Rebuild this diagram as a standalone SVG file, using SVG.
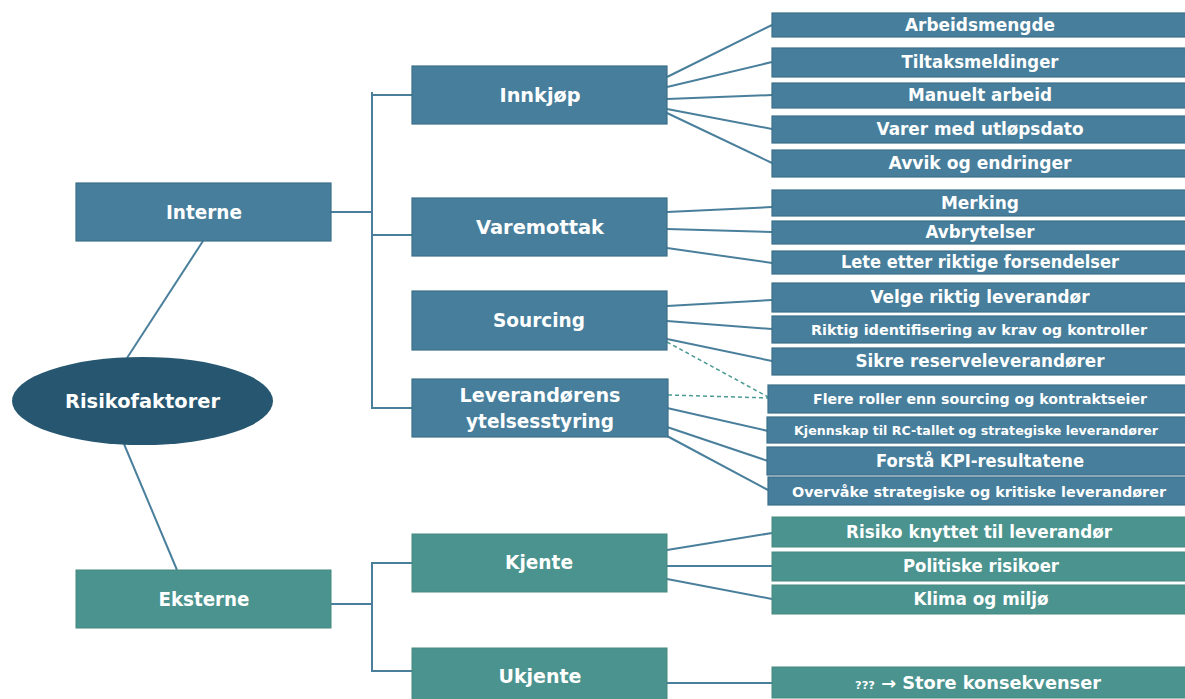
<svg xmlns="http://www.w3.org/2000/svg" width="1185" height="699" viewBox="0 0 1185 699">
  <style>
    .blue { fill: #467e9b; stroke: #3b7089; stroke-width: 1.2; }
    .teal { fill: #4a938e; stroke: #46897f; stroke-width: 1; }
    .root { fill: #265670; }
    .t { font-family: "DejaVu Sans", "Liberation Sans", sans-serif; font-weight: bold; fill: #ffffff; text-anchor: middle; }
    .big { font-size: 19px; }
    .mid { font-size: 17px; }
    .sm { font-size: 14px; }
    .xs { font-size: 13px; }
    .ln { stroke: #4a7f9c; stroke-width: 2; fill: none; }
    .dash { stroke: #4b9a94; stroke-width: 1.5; stroke-dasharray: 4 3; fill: none; }
  </style>

  <!-- connectors -->
  <g id="connectors">
    <!-- root to categories -->
    <line class="ln" x1="203" y1="241" x2="127" y2="358"/>
    <line class="ln" x1="124" y1="444" x2="177" y2="570"/>
    <!-- Interne trunk -->
    <line class="ln" x1="331" y1="212" x2="372" y2="212"/>
    <line class="ln" x1="372" y1="92" x2="372" y2="409"/>
    <line class="ln" x1="372" y1="95" x2="412" y2="95"/>
    <line class="ln" x1="372" y1="235" x2="412" y2="235"/>
    <line class="ln" x1="372" y1="408" x2="412" y2="408"/>
    <!-- Eksterne trunk -->
    <line class="ln" x1="331" y1="604" x2="372" y2="604"/>
    <line class="ln" x1="372" y1="562" x2="372" y2="672"/>
    <line class="ln" x1="372" y1="563" x2="412" y2="563"/>
    <line class="ln" x1="372" y1="671" x2="412" y2="671"/>
    <!-- Innkjøp -->
    <line class="ln" x1="667" y1="77" x2="772" y2="25"/>
    <line class="ln" x1="667" y1="87" x2="772" y2="62"/>
    <line class="ln" x1="667" y1="99" x2="772" y2="95"/>
    <line class="ln" x1="667" y1="109" x2="772" y2="129"/>
    <line class="ln" x1="667" y1="113" x2="772" y2="163"/>
    <!-- Varemottak -->
    <line class="ln" x1="667" y1="212" x2="772" y2="207"/>
    <line class="ln" x1="667" y1="229" x2="772" y2="232"/>
    <line class="ln" x1="667" y1="248" x2="772" y2="263"/>
    <!-- Sourcing -->
    <line class="ln" x1="667" y1="306" x2="772" y2="300"/>
    <line class="ln" x1="667" y1="321" x2="772" y2="329"/>
    <line class="ln" x1="667" y1="339" x2="772" y2="361"/>
    <line class="dash" x1="667" y1="342" x2="770" y2="398"/>
    <!-- Leverandørens ytelsesstyring -->
    <line class="dash" x1="668" y1="395" x2="770" y2="398"/>
    <line class="ln" x1="667" y1="408" x2="768" y2="431"/>
    <line class="ln" x1="667" y1="427" x2="768" y2="461"/>
    <line class="ln" x1="667" y1="436" x2="768" y2="490"/>
    <!-- Kjente -->
    <line class="ln" x1="667" y1="550" x2="772" y2="533"/>
    <line class="ln" x1="667" y1="566" x2="772" y2="566"/>
    <line class="ln" x1="667" y1="579" x2="772" y2="599"/>
    <!-- Ukjente -->
    <line class="ln" x1="667" y1="683" x2="772" y2="683"/>
  </g>

  <!-- root -->
  <g id="risikofaktorer">
    <ellipse class="root" cx="142.5" cy="401" rx="130.5" ry="44"/>
    <text class="t big" x="142.5" y="408" textLength="155" lengthAdjust="spacingAndGlyphs">Risikofaktorer</text>
  </g>

  <!-- categories -->
  <g id="interne">
    <rect class="blue" x="76" y="183" width="255" height="58"/>
    <text class="t big" x="204" y="219" textLength="76" lengthAdjust="spacingAndGlyphs">Interne</text>
  </g>
  <g id="eksterne">
    <rect class="teal" x="76" y="570" width="255" height="58"/>
    <text class="t big" x="204" y="606" textLength="91" lengthAdjust="spacingAndGlyphs">Eksterne</text>
  </g>

  <!-- internal sub-areas -->
  <g id="innkjop">
    <rect class="blue" x="412" y="66" width="255" height="58"/>
    <text class="t big" x="540" y="102" textLength="81" lengthAdjust="spacingAndGlyphs">Innkjøp</text>
  </g>
  <g id="varemottak">
    <rect class="blue" x="412" y="198" width="255" height="58"/>
    <text class="t big" x="540" y="234" textLength="128" lengthAdjust="spacingAndGlyphs">Varemottak</text>
  </g>
  <g id="sourcing">
    <rect class="blue" x="412" y="291" width="255" height="59"/>
    <text class="t big" x="539" y="327" textLength="92" lengthAdjust="spacingAndGlyphs">Sourcing</text>
  </g>
  <g id="leverandorens">
    <rect class="blue" x="412" y="379" width="256" height="58"/>
    <text class="t big" x="540" y="402" textLength="161" lengthAdjust="spacingAndGlyphs">Leverandørens</text>
    <text class="t big" x="540" y="428" textLength="148" lengthAdjust="spacingAndGlyphs">ytelsesstyring</text>
  </g>

  <!-- external sub-areas -->
  <g id="kjente">
    <rect class="teal" x="412" y="534" width="255" height="58"/>
    <text class="t big" x="539" y="569" textLength="68" lengthAdjust="spacingAndGlyphs">Kjente</text>
  </g>
  <g id="ukjente">
    <rect class="teal" x="412" y="648" width="255" height="58"/>
    <text class="t big" x="540" y="683" textLength="83" lengthAdjust="spacingAndGlyphs">Ukjente</text>
  </g>

  <!-- Innkjøp factors -->
  <g id="arbeidsmengde">
    <rect class="blue" x="772" y="13" width="414" height="24"/>
    <text class="t mid" x="980" y="31" textLength="150" lengthAdjust="spacingAndGlyphs">Arbeidsmengde</text>
  </g>
  <g id="tiltaksmeldinger">
    <rect class="blue" x="772" y="48" width="414" height="29"/>
    <text class="t mid" x="980" y="68" textLength="157" lengthAdjust="spacingAndGlyphs">Tiltaksmeldinger</text>
  </g>
  <g id="manuelt-arbeid">
    <rect class="blue" x="772" y="83" width="414" height="25"/>
    <text class="t mid" x="980" y="101" textLength="144" lengthAdjust="spacingAndGlyphs">Manuelt arbeid</text>
  </g>
  <g id="varer-med-utlopsdato">
    <rect class="blue" x="772" y="116" width="414" height="27"/>
    <text class="t mid" x="980" y="135" textLength="207" lengthAdjust="spacingAndGlyphs">Varer med utløpsdato</text>
  </g>
  <g id="avvik-og-endringer">
    <rect class="blue" x="772" y="150" width="414" height="27"/>
    <text class="t mid" x="980" y="169" textLength="183" lengthAdjust="spacingAndGlyphs">Avvik og endringer</text>
  </g>

  <!-- Varemottak factors -->
  <g id="merking">
    <rect class="blue" x="772" y="190" width="414" height="26"/>
    <text class="t mid" x="980" y="209" textLength="78" lengthAdjust="spacingAndGlyphs">Merking</text>
  </g>
  <g id="avbrytelser">
    <rect class="blue" x="772" y="221" width="414" height="23"/>
    <text class="t mid" x="980" y="238" textLength="109" lengthAdjust="spacingAndGlyphs">Avbrytelser</text>
  </g>
  <g id="lete-etter">
    <rect class="blue" x="772" y="251" width="414" height="23"/>
    <text class="t mid" x="980" y="268" textLength="278" lengthAdjust="spacingAndGlyphs">Lete etter riktige forsendelser</text>
  </g>

  <!-- Sourcing factors -->
  <g id="velge-riktig">
    <rect class="blue" x="772" y="283" width="414" height="29"/>
    <text class="t mid" x="980" y="303" textLength="219" lengthAdjust="spacingAndGlyphs">Velge riktig leverandør</text>
  </g>
  <g id="riktig-identifisering">
    <rect class="blue" x="772" y="316" width="414" height="27"/>
    <text class="t sm" x="979" y="334.5" textLength="336" lengthAdjust="spacingAndGlyphs">Riktig identifisering av krav og kontroller</text>
  </g>
  <g id="sikre-reserve">
    <rect class="blue" x="772" y="348" width="414" height="27"/>
    <text class="t mid" x="980" y="367" textLength="249" lengthAdjust="spacingAndGlyphs">Sikre reserveleverandører</text>
  </g>

  <!-- Leverandørens ytelsesstyring factors -->
  <g id="flere-roller">
    <rect class="blue" x="768" y="385" width="418" height="28"/>
    <text class="t sm" x="980" y="404" textLength="334" lengthAdjust="spacingAndGlyphs">Flere roller enn sourcing og kontraktseier</text>
  </g>
  <g id="kjennskap">
    <rect class="blue" x="767" y="417" width="419" height="26"/>
    <text class="t xs" x="976" y="434.5" textLength="364" lengthAdjust="spacingAndGlyphs">Kjennskap til RC-tallet og strategiske leverandører</text>
  </g>
  <g id="forsta-kpi">
    <rect class="blue" x="767" y="447" width="419" height="28"/>
    <text class="t mid" x="980" y="467" textLength="208" lengthAdjust="spacingAndGlyphs">Forstå KPI-resultatene</text>
  </g>
  <g id="overvake">
    <rect class="blue" x="768" y="477" width="418" height="28"/>
    <text class="t sm" x="979" y="496.5" textLength="374" lengthAdjust="spacingAndGlyphs">Overvåke strategiske og kritiske leverandører</text>
  </g>

  <!-- Kjente factors -->
  <g id="risiko-leverandor">
    <rect class="teal" x="772" y="517" width="414" height="30"/>
    <text class="t mid" x="979" y="538" textLength="266" lengthAdjust="spacingAndGlyphs">Risiko knyttet til leverandør</text>
  </g>
  <g id="politiske">
    <rect class="teal" x="772" y="552" width="414" height="29"/>
    <text class="t mid" x="981" y="572" textLength="156" lengthAdjust="spacingAndGlyphs">Politiske risikoer</text>
  </g>
  <g id="klima">
    <rect class="teal" x="772" y="585" width="414" height="29"/>
    <text class="t mid" x="981" y="605" textLength="135" lengthAdjust="spacingAndGlyphs">Klima og miljø</text>
  </g>

  <!-- Ukjente factor -->
  <g id="store-konsekvenser">
    <rect class="teal" x="772" y="667" width="414" height="31"/>
    <text class="t mid" x="978" y="689" textLength="246" lengthAdjust="spacingAndGlyphs"><tspan font-size="11px">???</tspan> → Store konsekvenser</text>
  </g>
</svg>
